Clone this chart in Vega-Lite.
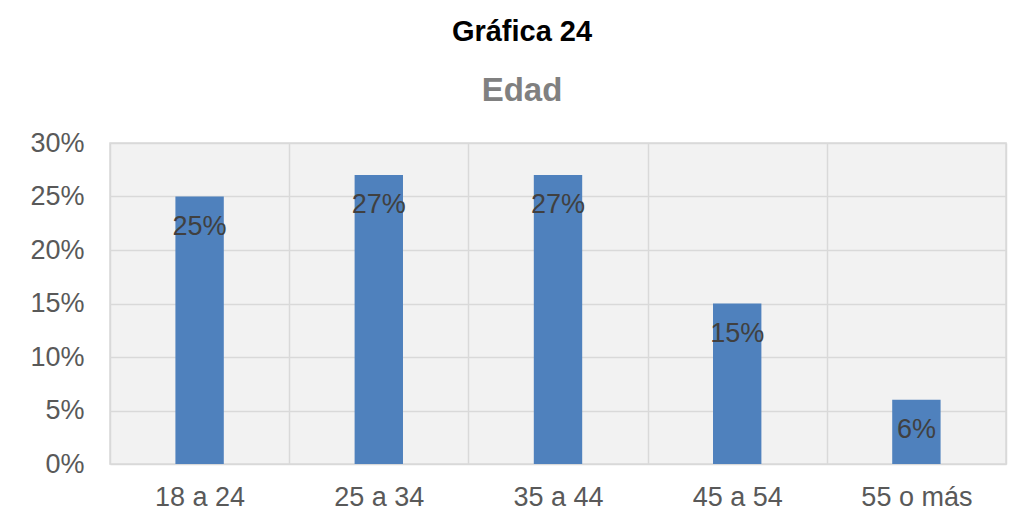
{
  "$schema": "https://vega.github.io/schema/vega-lite/v6.json",
  "width": 896,
  "height": 321,
  "autosize": {"type": "none"},
  "padding": {"left": 110, "top": 143, "right": 15, "bottom": 63},
  "background": "white",
  "title": {
    "text": "Gráfica 24",
    "subtitle": "Edad",
    "anchor": "middle",
    "dx": -36,
    "offset": 21,
    "font": "Liberation Sans",
    "fontSize": 29,
    "fontWeight": "bold",
    "color": "#000000",
    "subtitleFont": "Liberation Sans",
    "subtitleFontSize": 33,
    "subtitleFontWeight": "bold",
    "subtitleColor": "#808080",
    "subtitlePadding": 28
  },
  "data": {
    "values": [
      {"edad": "18 a 24", "pct": 0.25},
      {"edad": "25 a 34", "pct": 0.27},
      {"edad": "35 a 44", "pct": 0.27},
      {"edad": "45 a 54", "pct": 0.15},
      {"edad": "55 o más", "pct": 0.06}
    ]
  },
  "encoding": {
    "x": {
      "field": "edad",
      "type": "nominal",
      "sort": null,
      "scale": {"paddingInner": 0, "paddingOuter": 0},
      "axis": {
        "title": null,
        "labelAngle": 0,
        "labelFont": "Liberation Sans",
        "labelFontSize": 27,
        "labelColor": "#595959",
        "labelPadding": 20,
        "ticks": false,
        "domain": false,
        "grid": true,
        "tickBand": "extent",
        "gridColor": "#d9d9d9",
        "gridWidth": 1.5
      }
    },
    "y": {
      "field": "pct",
      "type": "quantitative",
      "scale": {"domain": [0, 0.3], "nice": false},
      "axis": {
        "title": null,
        "format": ".0%",
        "values": [0, 0.05, 0.1, 0.15, 0.2, 0.25, 0.3],
        "labelFont": "Liberation Sans",
        "labelFontSize": 27,
        "labelColor": "#595959",
        "labelPadding": 26,
        "ticks": false,
        "domain": false,
        "grid": true,
        "gridColor": "#d9d9d9",
        "gridWidth": 1.5
      }
    }
  },
  "layer": [
    {
      "mark": {"type": "bar", "color": "#4f81bd", "width": {"band": 0.27}}
    },
    {
      "mark": {
        "type": "text",
        "dy": 30,
        "baseline": "middle",
        "align": "center",
        "font": "Liberation Sans",
        "fontSize": 27,
        "color": "#404040"
      },
      "encoding": {
        "text": {"field": "pct", "type": "quantitative", "format": ".0%"}
      }
    }
  ],
  "config": {
    "view": {"fill": "#f2f2f2", "stroke": "#d9d9d9", "strokeWidth": 1.5}
  }
}
